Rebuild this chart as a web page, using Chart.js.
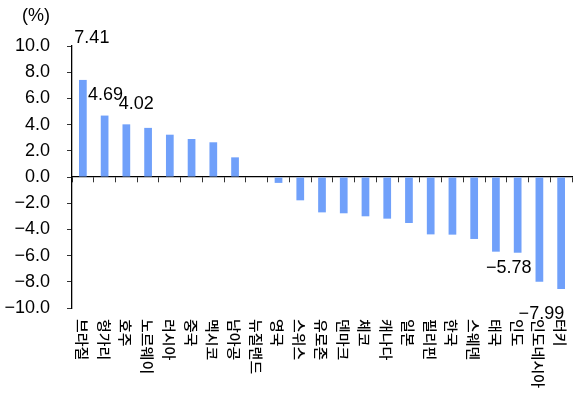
<!DOCTYPE html>
<html>
<head>
<meta charset="utf-8">
<script src="https://cdn.jsdelivr.net/npm/chart.js@4"></script>
<style>
  html, body { margin: 0; padding: 0; background: #fff; }
  #wrap { width: 573px; height: 403px; position: relative; }
</style>
</head>
<body>
<div id="wrap"><canvas id="chart"></canvas></div>
<script>
const countries = ['브라질', '헝가리', '호주', '노르웨이', '러시아', '중국', '멕시코', '남아공', '뉴질랜드', '영국', '스위스', '유로존',
    '덴마크', '체코', '캐나다', '일본', '필리핀', '한국', '스웨덴', '태국', '인도', '인도네시아', '터키'];
const changes = [7.41, 4.69, 4.02, 3.75, 3.23, 2.9, 2.65, 1.5, 0, -0.45, -1.78, -2.7,
    -2.77, -3.0, -3.18, -3.51, -4.38, -4.4, -4.73, -5.7, -5.78, -7.99, -8.55];
const yTicks = [-10, -8, -6, -4, -2, 0, 2, 4, 6, 8, 10];
const labelled = [0, 1, 2, 20, 21]; // bars whose value is written

const NUM_FONT = '"Liberation Sans Narrow", "Liberation Sans", sans-serif';
const KR_FONT = '"Noto Sans CJK KR", sans-serif';

function fmt(v, digits) {
    const s = Math.abs(v).toFixed(digits);
    return v < 0 ? '\u2212' + s : s;
}

// offsets of the value labels (px, from the bar end)
const labelShift = { 0: [9, -42], 1: [1, -21], 2: [10, -20], 20: [-9, 15], 21: [2, 32] };

const extras = {
    id: 'extras',
    afterDraw(chart) {
        const ctx = chart.ctx;
        const x = chart.scales.x, y = chart.scales.y;
        const area = chart.chartArea;
        ctx.save();
        ctx.fillStyle = '#000';

        // unit
        ctx.font = '18px ' + NUM_FONT;
        ctx.textAlign = 'center';
        ctx.textBaseline = 'middle';
        ctx.fillText('(%)', area.left - 36, area.top - 30);

        // values on a few bars
        labelled.forEach(i => {
            const px = x.getPixelForValue(i) + labelShift[i][0];
            const py = y.getPixelForValue(changes[i]) + labelShift[i][1];
            ctx.fillText(fmt(changes[i], 2), px, py);
        });

        // category names, read top to bottom
        ctx.font = '500 15px ' + KR_FONT;
        ctx.textAlign = 'left';
        countries.forEach((name, i) => {
            ctx.save();
            ctx.translate(x.getPixelForValue(i), area.bottom + 11);
            ctx.rotate(Math.PI / 2);
            ctx.scale(1, 0.9);
            ctx.fillText(name, 0, 1);
            ctx.restore();
        });
        ctx.restore();
    }
};

new Chart(document.getElementById('chart'), {
    type: 'bar',
    data: {
        labels: countries,
        datasets: [{
            data: changes,
            backgroundColor: '#70a0fa',
            borderWidth: 0,
            categoryPercentage: 1,
            barPercentage: 0.355
        }]
    },
    options: {
        responsive: true,
        maintainAspectRatio: false,
        animation: false,
        layout: { padding: { top: 46, bottom: 95, left: 0, right: 1 } },
        plugins: {
            legend: { display: false },
            tooltip: { enabled: false }
        },
        scales: {
            x: {
                position: { y: 0 },
                afterFit: s => { s.height = 0; },
                ticks: { display: false },
                grid: { drawOnChartArea: false, offset: true, tickLength: 5, color: '#333', lineWidth: 1 },
                border: { color: '#000', width: 1.3 }
            },
            y: {
                min: -10,
                max: 10,
                afterFit: s => { s.width = 72; },
                afterBuildTicks: s => { s.ticks = yTicks.map(v => ({ value: v })); },
                ticks: {
                    padding: 17,
                    color: '#000',
                    font: { family: NUM_FONT, size: 18 },
                    callback: v => fmt(v, 1)
                },
                grid: { drawOnChartArea: false, tickLength: 5, color: '#333' },
                border: { color: '#000', width: 1.3 }
            }
        }
    },
    plugins: [extras]
});
</script>
</body>
</html>
